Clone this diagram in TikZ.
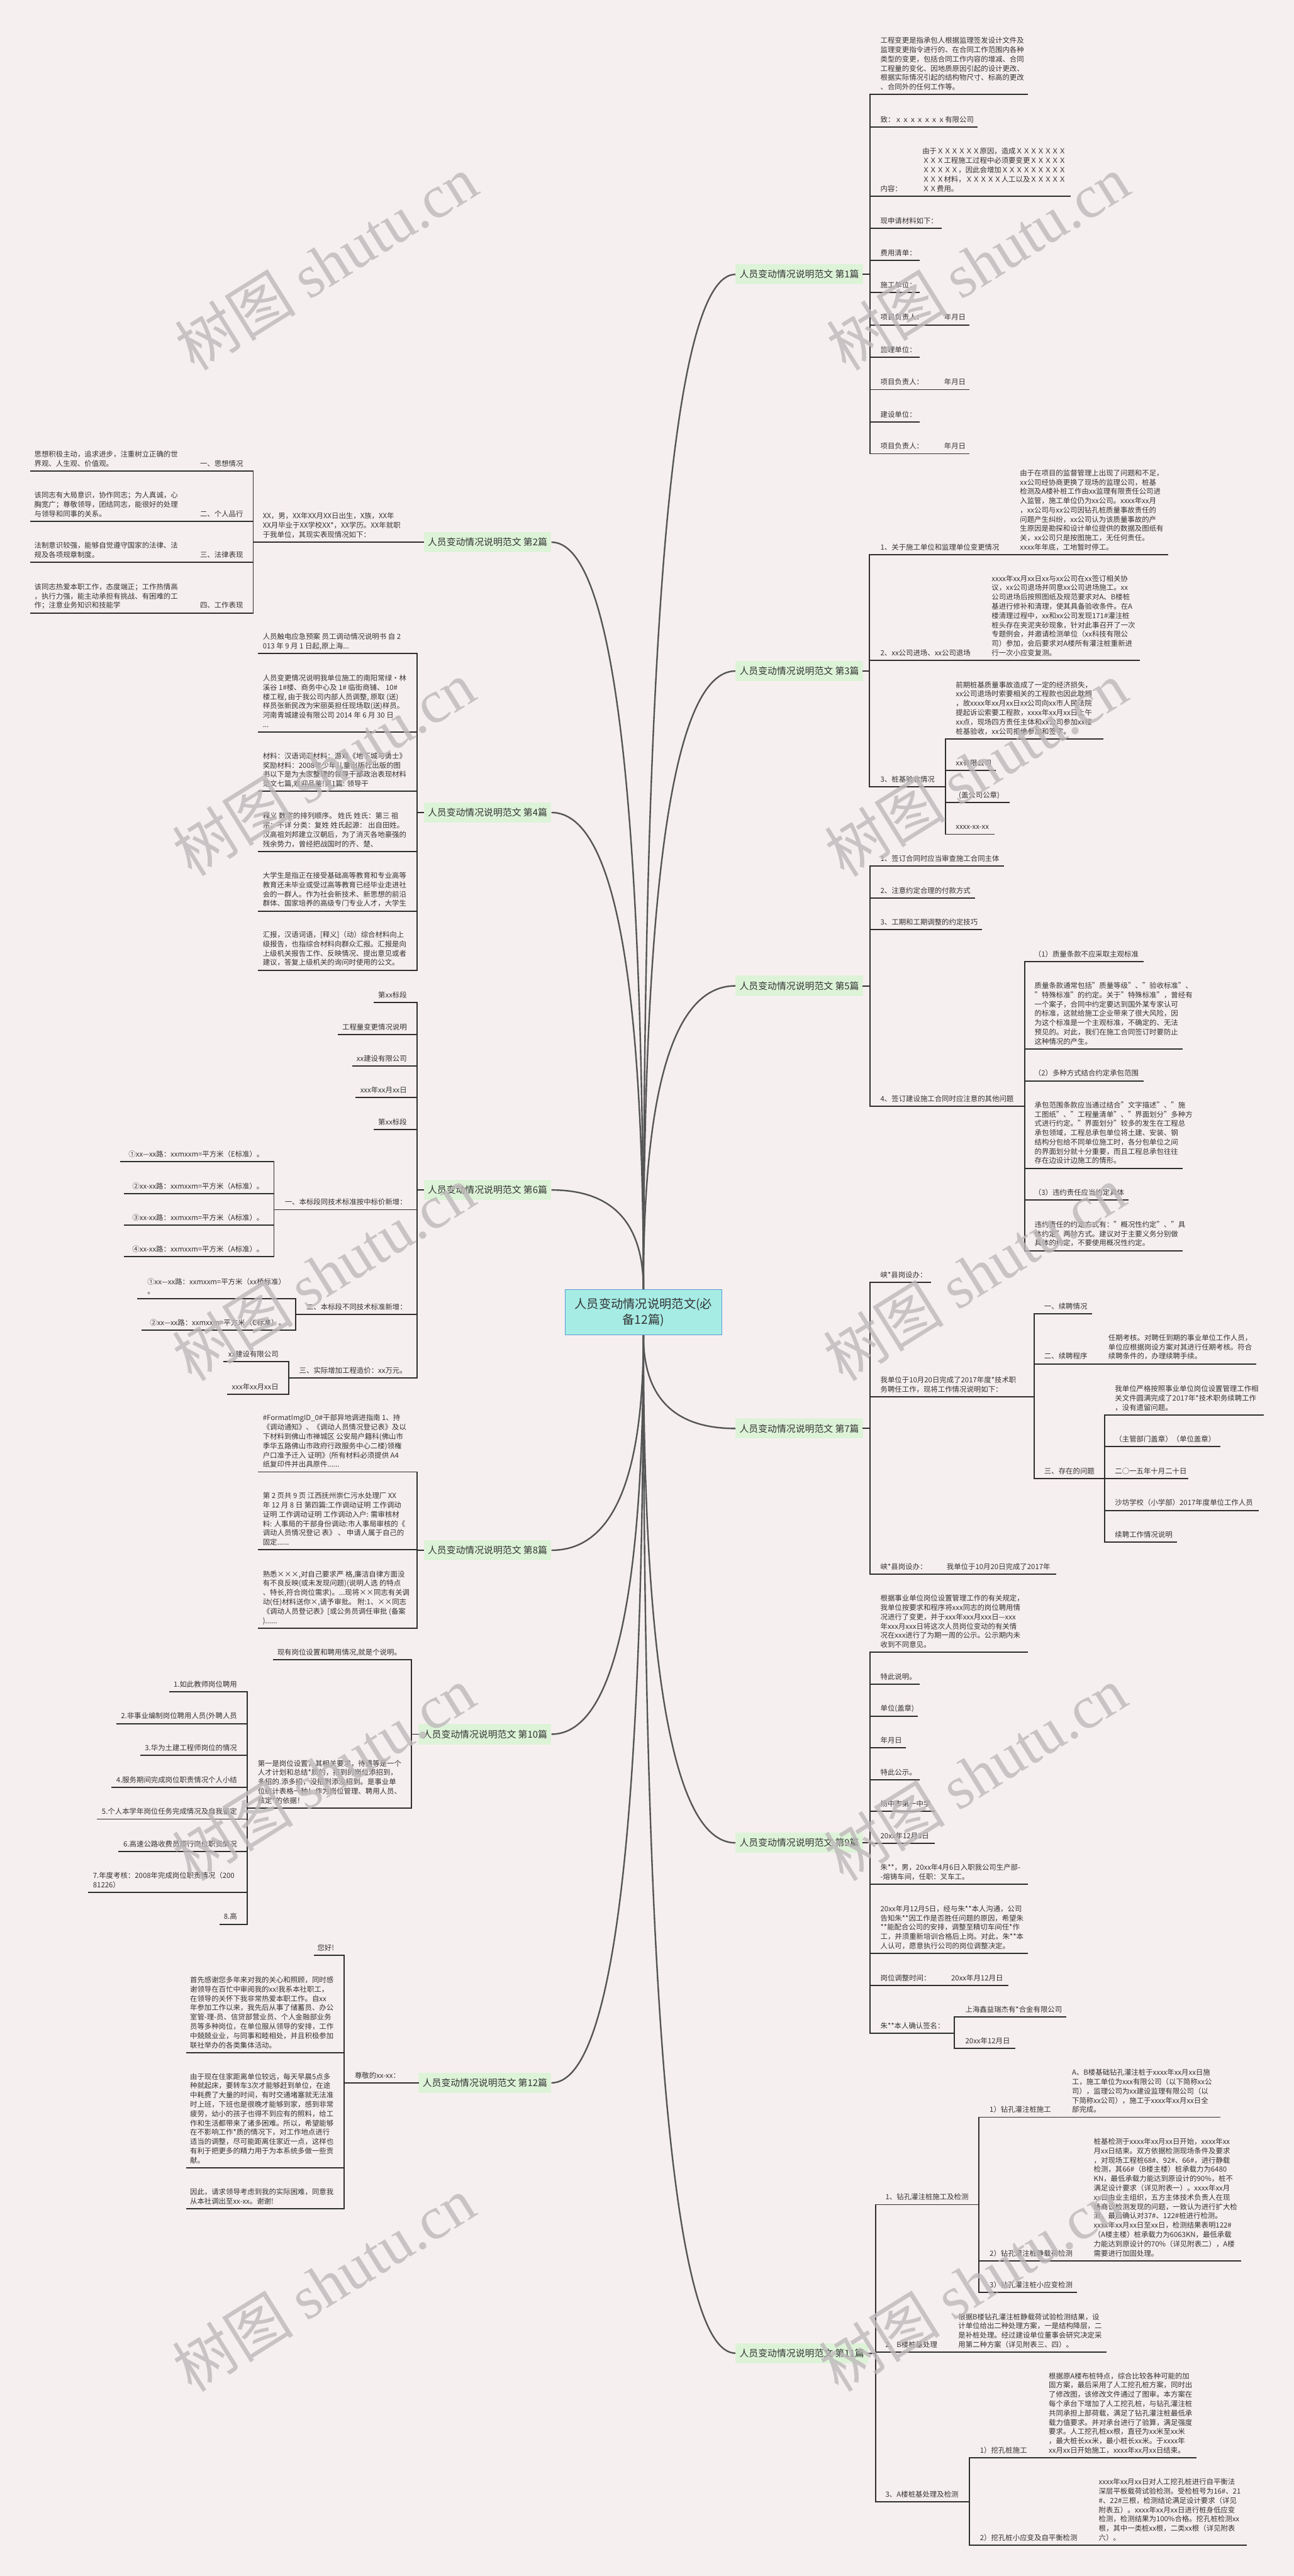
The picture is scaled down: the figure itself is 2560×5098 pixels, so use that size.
\documentclass[tikz,border=0pt]{standalone}
\usepackage{fontspec}
\setmainfont{Noto Sans CJK SC}
\newfontfamily\wmfont{Liberation Serif}
\usetikzlibrary{calc}
\definecolor{bg}{HTML}{F6EFF0}
\definecolor{ink}{HTML}{333333}
\definecolor{lineC}{HTML}{2E2E2E}
\definecolor{curveC}{HTML}{555555}
\definecolor{lab}{HTML}{DDF3D8}
\definecolor{ctr}{HTML}{A6ECE5}
\definecolor{ctrB}{HTML}{5A9BD5}
\definecolor{wmc}{HTML}{BDB8B9}
\tikzset{
 txt/.style={inner sep=0pt, outer sep=0pt, align=left, text=ink, font=\fontsize{14.2}{18.4}\selectfont, execute at end node=\strut},
 uline/.style={draw=lineC, line width=2.4pt, line cap=rect},
 curve/.style={draw=curveC, line width=3pt},
 branchbox/.style={fill=lab, text=ink, font=\fontsize{18.5}{22}\selectfont, inner xsep=8pt, inner ysep=0pt, minimum height=40pt},
 rootbox/.style={fill=ctr, draw=ctrB, line width=1.2pt, text=ink, font=\fontsize{24}{32}\selectfont, align=center, minimum width=310pt, minimum height=90pt, inner sep=0pt},
 wmark/.style={text=wmc, opacity=0.8, font=\fontsize{120}{120}\selectfont, rotate=32, inner sep=0pt}
}
% name, anchor, text x, x1, x2, y, text
\newcommand\leafnode[7]{%
  \coordinate (#1-l) at (#4,#6);
  \coordinate (#1-r) at (#5,#6);
  \node[txt, anchor=#2] (#1) at (#3,#6-4) {#7};
  \draw[uline] (#1-l) -- (#1-r);
}
\newcommand\bcurve[2]{%
  \draw[curve] (#1) .. controls ($(#1)!0.6667!(#1 |- #2)$) and ($(#2)!0.6667!(#1 |- #2)$) .. (#2);
}
\begin{document}
\begin{tikzpicture}[x=1pt,y=-1pt]
\fill[bg] (0,0) rectangle (2560,5098);
\useasboundingbox (0,0) rectangle (2560,5098);

% ---------- root and branch labels ----------
\node[rootbox] (C) at (1273,2597) {人员变动情况说明范文(必\\备12篇)};
\node[branchbox, anchor=west] (B1) at (1455,543) {人员变动情况说明范文 第1篇};
\node[branchbox, anchor=west] (B3) at (1455,1328) {人员变动情况说明范文 第3篇};
\node[branchbox, anchor=west] (B5) at (1455,1951) {人员变动情况说明范文 第5篇};
\node[branchbox, anchor=west] (B7) at (1455,2827) {人员变动情况说明范文 第7篇};
\node[branchbox, anchor=west] (B9) at (1455,3647) {人员变动情况说明范文 第9篇};
\node[branchbox, anchor=west] (B11) at (1455,4657) {人员变动情况说明范文 第11篇};
\node[branchbox, anchor=east] (B2) at (1091,1073) {人员变动情况说明范文 第2篇};
\node[branchbox, anchor=east] (B4) at (1091,1608) {人员变动情况说明范文 第4篇};
\node[branchbox, anchor=east] (B6) at (1091,2355) {人员变动情况说明范文 第6篇};
\node[branchbox, anchor=east] (B8) at (1091,3068) {人员变动情况说明范文 第8篇};
\node[branchbox, anchor=east] (B10) at (1091,3432) {人员变动情况说明范文 第10篇};
\node[branchbox, anchor=east] (B12) at (1091,4122) {人员变动情况说明范文 第12篇};

\bcurve{C.north}{B1.west}
\bcurve{C.north}{B3.west}
\bcurve{C.north}{B5.west}
\bcurve{C.north}{B2.east}
\bcurve{C.north}{B4.east}
\bcurve{C.north}{B6.east}
\bcurve{C.south}{B7.west}
\bcurve{C.south}{B9.west}
\bcurve{C.south}{B11.west}
\bcurve{C.south}{B8.east}
\bcurve{C.south}{B10.east}
\bcurve{C.south}{B12.east}

% ---------- Branch 1 ----------
\leafnode{b1a}{south west}{1742}{1721}{2033}{187}{工程变更是指承包人根据监理签发设计文件及\\监理变更指令进行的、在合同工作范围内各种\\类型的变更，包括合同工作内容的增减、合同\\工程量的变化、因地质原因引起的设计更改、\\根据实际情况引起的结构物尺寸、标高的更改\\、合同外的任何工作等。}
\leafnode{b1b}{south west}{1742}{1721}{1933}{251}{致：ｘｘｘｘｘｘｘ有限公司}
\leafnode{b1c}{south west}{1742}{1721}{1818}{388}{内容：}
\leafnode{b1c1}{south west}{1825}{1818}{2117}{388}{由于ＸＸＸＸＸＸ原因，造成ＸＸＸＸＸＸＸ\\ＸＸＸ工程施工过程中必须要变更ＸＸＸＸＸ\\ＸＸＸＸＸ，因此会增加ＸＸＸＸＸＸＸＸＸ\\ＸＸＸ材料，ＸＸＸＸＸ人工以及ＸＸＸＸＸ\\ＸＸ费用。}
\leafnode{b1d}{south west}{1742}{1721}{1862}{452}{现申请材料如下：}
\leafnode{b1e}{south west}{1742}{1721}{1819}{515}{费用清单：}
\leafnode{b1f}{south west}{1742}{1721}{1819}{579}{施工单位：}
\leafnode{b1g}{south west}{1742}{1721}{1858}{643}{项目负责人：}
\leafnode{b1g1}{south west}{1868}{1858}{1917}{643}{年月日}
\leafnode{b1h}{south west}{1742}{1721}{1819}{707}{监理单位：}
\leafnode{b1i}{south west}{1742}{1721}{1858}{771}{项目负责人：}
\leafnode{b1i1}{south west}{1868}{1858}{1917}{771}{年月日}
\leafnode{b1j}{south west}{1742}{1721}{1819}{835}{建设单位：}
\leafnode{b1k}{south west}{1742}{1721}{1858}{898}{项目负责人：}
\leafnode{b1k1}{south west}{1868}{1858}{1917}{898}{年月日}
\draw[uline] (b1a-l) -- (b1k-l);
\draw[uline] (B1.east) -- (B1.east -| b1a-l);

% ---------- Branch 3 ----------
\leafnode{b3a}{south west}{1742}{1720}{2010}{1098}{1、关于施工单位和监理单位变更情况}
\leafnode{b3a1}{south west}{2018}{2010}{2310}{1098}{由于在项目的监督管理上出现了问题和不足，\\xx公司经协商更换了现场的监理公司，桩基\\检测及A楼补桩工作由xx监理有限责任公司进\\入监管，施工单位仍为xx公司。xxxx年xx月\\，xx公司与xx公司因钻孔桩质量事故责任的\\问题产生纠纷，xx公司认为该质量事故的产\\生原因是勘探和设计单位提供的数据及图纸有\\关，xx公司只是按图施工，无任何责任。\\xxxx年年底，工地暂时停工。}
\leafnode{b3b}{south west}{1742}{1720}{1955}{1307}{2、xx公司进场、xx公司退场}
\leafnode{b3b1}{south west}{1962}{1955}{2254}{1307}{xxxx年xx月xx日xx与xx公司在xx签订相关协\\议，xx公司退场并同意xx公司进场施工。xx\\公司进场后按照图纸及规范要求对A、B楼桩\\基进行修补和清理，使其具备验收条件。在A\\楼清理过程中，xx和xx公司发现171\#灌注桩\\桩头存在夹泥夹砂现象，针对此事召开了一次\\专题例会，并邀请检测单位（xx科技有限公\\司）参加，会后要求对A楼所有灌注桩重新进\\行一次小应变复测。}
\leafnode{b3c}{south west}{1742}{1720}{1871}{1557}{3、桩基验收情况}
\leafnode{b3c1}{south west}{1891}{1871}{2182}{1462}{前期桩基质量事故造成了一定的经济损失，\\xx公司退场时索要相关的工程款也因此耽搁\\，故xxxx年xx月xx日xx公司向xx市人民法院\\提起诉讼索要工程款，xxxx年xx月xx日上午\\xx点，现场四方责任主体和xx公司参加xx楼\\桩基验收，xx公司拒绝参加和签字。}
\leafnode{b3c2}{south west}{1891}{1871}{1969}{1525}{xx有限公司}
\leafnode{b3c3}{south west}{1897}{1871}{1996}{1588}{(盖公司公章)}
\leafnode{b3c4}{south west}{1891}{1871}{1967}{1651}{xxxx-xx-xx}
\draw[uline] (b3a-l) -- (b3c-l);
\draw[uline] (b3c1-l) -- (b3c4-l);
\draw[uline] (B3.east) -- (B3.east -| b3a-l);

% ---------- Branch 5 ----------
\leafnode{b5a}{south west}{1742}{1721}{1985}{1714}{1、签订合同时应当审查施工合同主体}
\leafnode{b5b}{south west}{1742}{1721}{1928}{1777}{2、注意约定合理的付款方式}
\leafnode{b5c}{south west}{1742}{1721}{1942}{1840}{3、工期和工期调整的约定技巧}
\leafnode{b5d}{south west}{1742}{1721}{2027}{2189}{4、签订建设施工合同时应注意的其他问题}
\leafnode{b5d1}{south west}{2046}{2027}{2261}{1903}{（1）质量条款不应采取主观标准}
\leafnode{b5d2}{south west}{2047}{2027}{2339}{2076}{质量条款通常包括"质量等级"、"验收标准"、\\"特殊标准"的约定。关于"特殊标准"，曾经有\\一个案子，合同中约定要达到国外某专家认可\\的标准，这就给施工企业带来了很大风险，因\\为这个标准是一个主观标准，不确定的、无法\\预见的。对此，我们在施工合同签订时要防止\\这种情况的产生。}
\leafnode{b5d3}{south west}{2046}{2027}{2261}{2139}{（2）多种方式结合约定承包范围}
\leafnode{b5d4}{south west}{2047}{2027}{2339}{2312}{承包范围条款应当通过结合"文字描述"、"施\\工图纸"、"工程量清单"、"界面划分"多种方\\式进行约定。"界面划分"较多的发生在工程总\\承包领域，工程总承包单位将土建、安装、钢\\结构分包给不同单位施工时，各分包单位之间\\的界面划分就十分重要，而且工程总承包往往\\存在边设计边施工的情形。}
\leafnode{b5d5}{south west}{2046}{2027}{2232}{2375}{（3）违约责任应当约定具体}
\leafnode{b5d6}{south west}{2047}{2027}{2339}{2475}{违约责任的约定方式有："概况性约定"、"具\\体约定"两种方式。建议对于主要义务分别做\\具体的约定，不要使用概况性约定。}
\draw[uline] (b5a-l) -- (b5d-l);
\draw[uline] (b5d1-l) -- (b5d6-l);
\draw[uline] (B5.east) -- (B5.east -| b5a-l);

% ---------- Branch 7 ----------
\leafnode{b7a}{south west}{1742}{1721}{1841}{2538}{峡*县岗设办：}
\leafnode{b7b}{south west}{1742}{1721}{2046}{2764}{我单位于10月20日完成了2017年度*技术职\\务聘任工作，现将工作情况说明如下：}
\leafnode{b7b1}{south west}{2066}{2046}{2159}{2600}{一、续聘情况}
\leafnode{b7b2}{south west}{2066}{2046}{2185}{2699}{二、续聘程序}
\leafnode{b7b2a}{south west}{2193}{2185}{2484}{2699}{任期考核。对聘任到期的事业单位工作人员，\\单位应根据岗设方案对其进行任期考核。符合\\续聘条件的，办理续聘手续。}
\leafnode{b7b3}{south west}{2066}{2046}{2185}{2926}{三、存在的问题}
\leafnode{b7b3a}{south west}{2206}{2185}{2499}{2800}{我单位严格按照事业单位岗位设置管理工作相\\关文件圆满完成了2017年*技术职务续聘工作\\，没有遗留问题。}
\leafnode{b7b3b}{south west}{2206}{2185}{2413}{2863}{（主管部门盖章）（单位盖章）}
\leafnode{b7b3c}{south west}{2206}{2185}{2350}{2926}{二○一五年十月二十日}
\leafnode{b7b3d}{south west}{2206}{2185}{2489}{2989}{沙坊学校（小学部）2017年度单位工作人员}
\leafnode{b7b3e}{south west}{2206}{2185}{2328}{3052}{续聘工作情况说明}
\leafnode{b7c}{south west}{1742}{1721}{1866}{3115}{峡*县岗设办：}
\leafnode{b7c1}{south west}{1873}{1866}{2089}{3115}{我单位于10月20日完成了2017年}
\draw[uline] (b7a-l) -- (b7c-l);
\draw[uline] (b7b1-l) -- (b7b3-l);
\draw[uline] (b7b3a-l) -- (b7b3e-l);
\draw[uline] (B7.east) -- (B7.east -| b7a-l);

% ---------- Branch 9 ----------
\leafnode{b9a}{south west}{1742}{1721}{2033}{3270}{根据事业单位岗位设置管理工作的有关规定，\\我单位按要求和程序将xxx同志的岗位聘用情\\况进行了变更，并于xxx年xxx月xxx日—xxx\\年xxx月xxx日将这次人员岗位变动的有关情\\况在xxx进行了为期一周的公示。公示期内未\\收到不同意见。}
\leafnode{b9b}{south west}{1742}{1721}{1819}{3333}{特此说明。}
\leafnode{b9c}{south west}{1742}{1721}{1815}{3396}{单位(盖章)}
\leafnode{b9d}{south west}{1742}{1721}{1791}{3459}{年月日}
\leafnode{b9e}{south west}{1742}{1721}{1819}{3522}{特此公示。}
\leafnode{b9f}{south west}{1742}{1721}{1848}{3585}{扬中市第一中学}
\leafnode{b9g}{south west}{1742}{1721}{1848}{3648}{20xx年12月3日}
\leafnode{b9h}{south west}{1742}{1721}{2033}{3729}{朱**，男，20xx年4月6日入职我公司生产部-\\-熔铸车间，任职：叉车工。}
\leafnode{b9i}{south west}{1742}{1721}{2033}{3866}{20xx年月12月5日，经与朱**本人沟通，公司\\告知朱**因工作是否胜任问题的原因，希望朱\\{}**能配合公司的安排，调整至精切车间任*作\\工，并须重新培训合格后上岗。对此，朱**本\\人认可，愿意执行公司的岗位调整决定。}
\leafnode{b9j}{south west}{1742}{1721}{1875}{3929}{岗位调整时间：}
\leafnode{b9j1}{south west}{1882}{1875}{1994}{3929}{20xx年月12月日}
\leafnode{b9k}{south west}{1742}{1721}{1888}{4024}{朱**本人确认签名：}
\leafnode{b9k1}{south west}{1910}{1888}{2108}{3992}{上海鑫益瑞杰有*合金有限公司}
\leafnode{b9k2}{south west}{1910}{1888}{2007}{4054}{20xx年12月日}
\draw[uline] (b9a-l) -- (b9k-l);
\draw[uline] (b9k1-l) -- (b9k2-l);
\draw[uline] (B9.east) -- (B9.east -| b9a-l);

% ---------- Branch 11 ----------
\leafnode{b11a}{south west}{1752}{1732}{1937}{4363}{1、钻孔灌注桩施工及检测}
\leafnode{b11a1}{south west}{1958}{1937}{2113}{4190}{1）钻孔灌注桩施工}
\leafnode{b11a1c}{south west}{2121}{2113}{2413}{4190}{A、B楼基础钻孔灌注桩于xxxx年xx月xx日施\\工，施工单位为xxx有限公司（以下简称xx公\\司），监理公司为xx建设监理有限公司（以\\下简称xx公司），施工于xxxx年xx月xx日全\\部完成。}
\leafnode{b11a2}{south west}{1958}{1937}{2156}{4474}{2）钻孔灌注桩静载荷检测}
\leafnode{b11a2c}{south west}{2164}{2156}{2455}{4474}{桩基检测于xxxx年xx月xx日开始，xxxx年xx\\月xx日结束。双方依据检测现场条件及要求\\，对现场工程桩68\#、92\#、66\#，进行静载\\检测，其66\#（B楼主楼）桩承载力为6480\\KN，最低承载力能达到原设计的90\%，桩不\\满足设计要求（详见附表一）。xxxx年xx月\\xx日由业主组织，五方主体技术负责人在现\\场商议检测发现的问题，一致认为进行扩大检\\测，最后确认对37\#、122\#桩进行检测。\\xxxx年xx月xx日至xx日，检测结果表明122\#\\（A楼主楼）桩承载力为6063KN，最低承载\\力能达到原设计的70\%（详见附表二），A楼\\需要进行加固处理。}
\leafnode{b11a3}{south west}{1958}{1937}{2130}{4537}{3）钻孔灌注桩小应变检测}
\leafnode{b11b}{south west}{1752}{1732}{1888}{4655}{2、B楼桩基处理}
\leafnode{b11b1}{south west}{1896}{1888}{2188}{4655}{根据B楼钻孔灌注桩静载荷试验检测结果，设\\计单位给出二种处理方案，一是结构降层，二\\是补桩处理。经过建设单位董事会研究决定采\\用第二种方案（详见附表三、四）。}
\leafnode{b11c}{south west}{1752}{1732}{1918}{4951}{3、A楼桩基处理及检测}
\leafnode{b11c1}{south west}{1939}{1918}{2067}{4864}{1）挖孔桩施工}
\leafnode{b11c1c}{south west}{2075}{2067}{2366}{4864}{根据原A楼布桩特点，综合比较各种可能的加\\固方案，最后采用了人工挖孔桩方案，同时出\\了修改图，该修改文件通过了图审。本方案在\\每个承台下增加了人工挖孔桩，与钻孔灌注桩\\共同承担上部荷载，满足了钻孔灌注桩最低承\\载力值要求。并对承台进行了验算，满足强度\\要求。人工挖孔桩xx根，直径为xx米至xx米\\，最大桩长xx米，最小桩长xx米。于xxxx年\\xx月xx日开始施工，xxxx年xx月xx日结束。}
\leafnode{b11c2}{south west}{1939}{1918}{2166}{5037}{2）挖孔桩小应变及自平衡检测}
\leafnode{b11c2c}{south west}{2174}{2166}{2465}{5037}{xxxx年xx月xx日对人工挖孔桩进行自平衡法\\深层平板载荷试验检测。受检桩号为16\#、21\\\#、22\#三根，检测结论满足设计要求（详见\\附表五）。xxxx年xx月xx日进行桩身低应变\\检测，检测结果为100\%合格。挖孔桩检测xx\\根，其中一类桩xx根，二类xx根（详见附表\\六）。}
\draw[uline] (b11a-l) -- (b11c-l);
\draw[uline] (b11a1-l) -- (b11a3-l);
\draw[uline] (b11c1-l) -- (b11c2-l);
\draw[uline] (B11.east) -- (B11.east -| b11a-l);

% ---------- Branch 2 ----------
\leafnode{b2a}{south west}{520}{501}{813}{1073}{XX，男，XX年XX月XX日出生，X族，XX年\\XX月毕业于XX学校XX*，XX学历。XX年就职\\于我单位，其现实表现情况如下：}
\leafnode{b2a1}{south east}{481}{385}{501}{932}{一、思想情况}
\leafnode{b2a1c}{south west}{68}{61}{385}{932}{思想积极主动，追求进步，注重树立正确的世\\界观、人生观、价值观。}
\leafnode{b2a2}{south east}{481}{385}{501}{1032}{二、个人品行}
\leafnode{b2a2c}{south west}{68}{61}{385}{1032}{该同志有大局意识，协作同志；为人真诚，心\\胸宽广；尊敬领导，团结同志，能很好的处理\\与领导和同事的关系。}
\leafnode{b2a3}{south east}{481}{385}{501}{1113}{三、法律表现}
\leafnode{b2a3c}{south west}{68}{61}{385}{1113}{法制意识较强，能够自觉遵守国家的法律、法\\规及各项规章制度。}
\leafnode{b2a4}{south east}{481}{385}{501}{1213}{四、工作表现}
\leafnode{b2a4c}{south west}{68}{61}{385}{1213}{该同志热爱本职工作，态度端正；工作热情高\\，执行力强，能主动承担有挑战、有困难的工\\作；注意业务知识和技能学}
\draw[uline] (b2a1-r) -- (b2a4-r);
\draw[uline] (B2.west) -- (b2a-r);

% ---------- Branch 4 ----------
\leafnode{b4a}{south west}{520}{512}{825}{1293}{人员触电应急预案 员工调动情况说明书 自 2\\013 年 9 月 1 日起,原上海...}
\leafnode{b4b}{south west}{520}{512}{825}{1449}{人员变更情况说明我单位施工的南阳常绿·林\\溪谷 1\#楼、商务中心及 1\# 临街商铺、 10\#\\楼工程, 由于我公司内部人员调整, 原取 (送)\\样员张新民改为宋丽英担任现场取(送)样员。\\河南青城建设有限公司 2014 年 6 月 30 日 ...\\...}
\leafnode{b4c}{south west}{520}{512}{825}{1566}{材料：汉语词汇材料：游戏《地下城与勇士》\\奖励材料：2008年少年儿童出版社出版的图\\书以下是为大家整理的领导干部政治表现材料\\范文七篇,欢迎品鉴!第1篇: 领导干}
\leafnode{b4d}{south west}{520}{512}{825}{1685}{释义 数字的排列顺序。 姓氏 姓氏：第三 祖\\宗：不详 分类：复姓 姓氏起源： 出自田姓。\\汉高祖刘邦建立汉朝后，为了消灭各地豪强的\\残余势力，曾经把战国时的齐、楚、}
\leafnode{b4e}{south west}{520}{512}{825}{1803}{大学生是指正在接受基础高等教育和专业高等\\教育还未毕业或受过高等教育已经毕业走进社\\会的一群人。作为社会新技术、新思想的前沿\\群体、国家培养的高级专门专业人才，大学生}
\leafnode{b4f}{south west}{520}{512}{825}{1920}{汇报，汉语词语，[释义]（动）综合材料向上\\级报告，也指综合材料向群众汇报。汇报是向\\上级机关报告工作、反映情况、提出意见或者\\建议，答复上级机关的询问时使用的公文。}
\draw[uline] (b4a-r) -- (b4f-r);
\draw[uline] (B4.west) -- (B4.west -| b4a-r);

% ---------- Branch 6 ----------
\leafnode{b6a}{south east}{805}{740}{825}{1984}{第xx标段}
\leafnode{b6b}{south east}{805}{669}{825}{2047}{工程量变更情况说明}
\leafnode{b6c}{south east}{805}{698}{825}{2110}{xx建设有限公司}
\leafnode{b6d}{south east}{805}{704}{825}{2172}{xxx年xx月xx日}
\leafnode{b6e}{south east}{805}{740}{825}{2235}{第xx标段}
\leafnode{b6f}{south east}{805}{542}{825}{2394}{一、本标段同技术标准按中标价新增：}
\leafnode{b6f1}{south east}{522}{239}{542}{2299}{①xx—xx路：xxmxxm=平方米（E标准）。}
\leafnode{b6f2}{south east}{522}{247}{542}{2362}{②xx-xx路：xxmxxm=平方米（A标准）。}
\leafnode{b6f3}{south east}{522}{247}{542}{2425}{③xx-xx路：xxmxxm=平方米（A标准）。}
\leafnode{b6f4}{south east}{522}{247}{542}{2487}{④xx-xx路：xxmxxm=平方米（A标准）。}
\leafnode{b6g}{south east}{805}{585}{825}{2601}{二、本标段不同技术标准新增：}
\leafnode{b6g1}{south east}{565}{272}{585}{2570}{①xx—xx路：xxmxxm=平方米（xx桥标准）\\。}
\leafnode{b6g2}{south east}{565}{281}{585}{2632}{②xx—xx路：xxmxxm=平方米（C标准）。}
\leafnode{b6h}{south east}{805}{571}{825}{2727}{三、实际增加工程造价：xx万元。}
\leafnode{b6h1}{south east}{551}{443}{571}{2695}{xx建设有限公司}
\leafnode{b6h2}{south east}{551}{450}{571}{2759}{xxx年xx月xx日}
\draw[uline] (b6a-r) -- (b6h-r);
\draw[uline] (b6f1-r) -- (b6f4-r);
\draw[uline] (b6g1-r) -- (b6g2-r);
\draw[uline] (b6h1-r) -- (b6h2-r);
\draw[uline] (B6.west) -- (B6.west -| b6a-r);

% ---------- Branch 8 ----------
\leafnode{b8a}{south west}{520}{512}{825}{2913}{\#FormatImgID\_0\#干部异地调进指南 1、持\\《调动通知》、《调动人员情况登记表》及以\\下材料到佛山市禅城区 公安局户籍科(佛山市\\季华五路佛山市政府行政服务中心二楼)领権\\户口准予迁入 证明》(所有材料必须提供 A4\\纸复印件并出具原件......}
\leafnode{b8b}{south west}{520}{512}{825}{3067}{第 2 页共 9 页 江西抚州崇仁污水处理厂 XX\\年 12 月 8 日 第四篇:工作调动证明 工作调动\\证明 工作调动证明 工作调动入户: 需审核材\\料: 人事局的干部身份调动:市人事局审核的《\\调动人员情况登记 表》 、 申请人属于自己的\\固定......}
\leafnode{b8c}{south west}{520}{512}{825}{3222}{熟悉×××,对自己要求严 格,廉洁自律方面没\\有不良反映(或未发现问题)(说明人选 的特点\\、特长,符合岗位需求)。...现将××同志有关调\\动(任)材料送你×,请予审批。 附:1、××同志\\《调动人员登记表》[或公务员调任审批 (备案\\)......}
\draw[uline] (b8a-r) -- (b8c-r);
\draw[uline] (B8.west) -- (B8.west -| b8a-r);

% ---------- Branch 10 ----------
\leafnode{b10a}{south east}{794}{541}{814}{3285}{现有岗位设置和聘用情况,就是个说明。}
\leafnode{b10b}{south west}{510}{489}{814}{3578}{第一是岗位设置，其相关要求，待遇等是一个\\人才计划和总结*质的，招到的岗位添招到，\\多招的.添多招，没招到添没招到。是事业单\\位统计表格一种！作为岗位管理、聘用人员、\\核定*的依据！}
\leafnode{b10b1}{south east}{469}{336}{489}{3348}{1.如此教师岗位聘用}
\leafnode{b10b2}{south east}{469}{231}{489}{3411}{2.非事业编制岗位聘用人员(外聘人员}
\leafnode{b10b3}{south east}{469}{279}{489}{3474}{3.华为土建工程师岗位的情况}
\leafnode{b10b4}{south east}{469}{222}{489}{3537}{4.服务期间完成岗位职责情况个人小结}
\leafnode{b10b5}{south east}{469}{193}{489}{3600}{5.个人本学年岗位任务完成情况及自我鉴定}
\leafnode{b10b6}{south east}{469}{235}{489}{3664}{6.高速公路收费员履行岗位职责情况}
\leafnode{b10b7}{south west}{184}{176}{489}{3745}{7.年度考核：2008年完成岗位职责情况（200\\81226）}
\leafnode{b10b8}{south east}{469}{436}{489}{3808}{8.高}
\draw[uline] (b10a-r) -- (b10b-r);
\draw[uline] (b10b1-r) -- (b10b8-r);
\draw[uline] (B10.west) -- (B10.west -| b10a-r);

% ---------- Branch 12 ----------
\leafnode{b12a}{south west}{702}{681}{800}{4122}{尊敬的xx-xx：}
\leafnode{b12a1}{south east}{661}{622}{681}{3870}{您好!}
\leafnode{b12a2}{south west}{376}{369}{681}{4062}{首先感谢您多年来对我的关心和照顾，同时感\\谢领导在百忙中审阅我的xx!我系本社职工，\\在领导的关怀下我非常热爱本职工作。自xx\\年参加工作以来，我先后从事了储蓄员、办公\\室管-理-员、信贷部营业员、个人金融部业务\\员等多种岗位，在单位服从领导的安排，工作\\中兢兢业业，与同事和睦相处，并且积极参加\\联社举办的各类集体活动。}
\leafnode{b12a3}{south west}{376}{369}{681}{4290}{由于现在住家距离单位较远，每天早晨5点多\\种就起床，要转车3次才能够赶到单位，在途\\中耗费了大量的时间，有时交通堵塞就无法准\\时上班，下班也是很晚才能够到家，感到非常\\疲劳，幼小的孩子也得不到应有的照料，给工\\作和生活都带来了诸多困难。所以，希望能够\\在不影响工作*质的情况下，对工作地点进行\\适当的调整，尽可能距离住家近一点，这样也\\有利于把更多的精力用于为本系统多做一些贡\\献。}
\leafnode{b12a4}{south west}{376}{369}{681}{4371}{因此，请求领导考虑到我的实际困难，同意我\\从本社调出至xx-xx。谢谢!}
\draw[uline] (b12a1-r) -- (b12a4-r);
\draw[uline] (B12.west) -- (b12a-r);

% ---------- watermarks ----------
\node[wmark] (w1) at (1935,520) {树图 {\wmfont shutu.cn}};
\node[wmark] (w2) at (1931,1522) {树图 {\wmfont shutu.cn}};
\node[wmark] (w3) at (1928,2520) {树图 {\wmfont shutu.cn}};
\node[wmark] (w4) at (1930,3510) {树图 {\wmfont shutu.cn}};
\node[wmark] (w5) at (1920,4520) {树图 {\wmfont shutu.cn}};
\node[wmark] (w6) at (645,520) {树图 {\wmfont shutu.cn}};
\node[wmark] (w7) at (640,1520) {树图 {\wmfont shutu.cn}};
\node[wmark] (w8) at (640,2520) {树图 {\wmfont shutu.cn}};
\node[wmark] (w9) at (640,3510) {树图 {\wmfont shutu.cn}};
\node[wmark] (w10) at (640,4520) {树图 {\wmfont shutu.cn}};
\end{tikzpicture}
\end{document}
